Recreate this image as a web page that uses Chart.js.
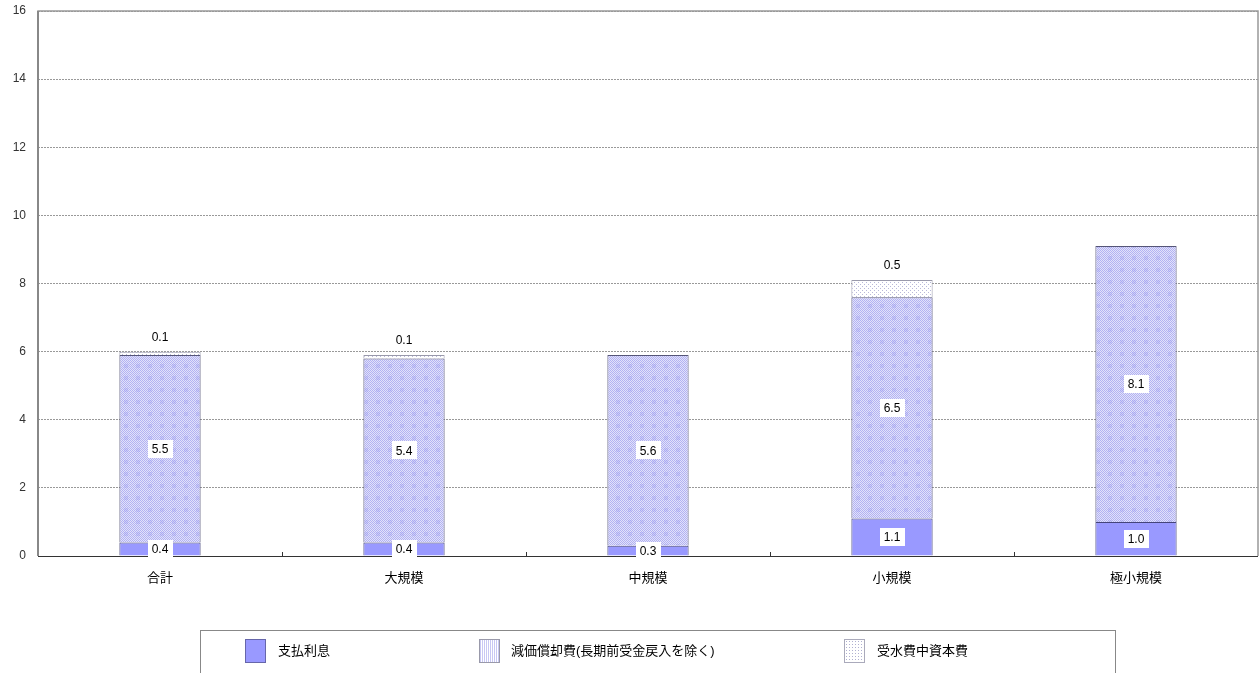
<!DOCTYPE html>
<html><head><meta charset="utf-8">
<script src="https://cdn.jsdelivr.net/npm/chart.js@4"></script>
<style>
html,body{margin:0;padding:0;background:#fff;}
#wrap{position:relative;width:1260px;height:673px;overflow:hidden;}
#c{position:absolute;left:0;top:0;}
#legend{position:absolute;left:200px;top:630px;width:916px;height:44px;border:1px solid #888;box-sizing:border-box;font-family:"Liberation Sans","Noto Sans CJK JP",sans-serif;font-size:13px;color:#000;}
.sw{position:absolute;top:8px;width:21px;height:24px;box-sizing:border-box;}
.lt{position:absolute;top:11px;line-height:18px;white-space:nowrap;}
</style></head>
<body><div id="wrap"><canvas id="c" width="1260" height="673"></canvas>
<div id="legend"></div></div>
<script>
const categories = ["合計","大規模","中規模","小規模","極小規模"];
const seriesNames = ["支払利息","減価償却費(長期前受金戻入を除く)","受水費中資本費"];
const interest = [0.4,0.4,0.3,1.1,1.0];
const depreciation = [5.5,5.4,5.6,6.5,8.1];
const capitalCost = [0.1,0.1,null,0.5,null];
const yTicks = [0,2,4,6,8,10,12,14,16];

function makePattern2(){
  const c=document.createElement('canvas');c.width=12;c.height=12;const g=c.getContext('2d');
  g.fillStyle='#e2e2fa';g.fillRect(0,0,12,12);
  for(let y=0;y<12;y++)for(let x=0;x<12;x++){
    if((x+y)%2===0){g.fillStyle='#b2b2f2';g.fillRect(x,y,1,1);}
  }
  g.fillStyle='rgba(150,150,240,0.28)';
  g.fillRect(4,4,4,4);
  return g.createPattern(c,'repeat');
}
function makePattern3(){
  const c=document.createElement('canvas');c.width=4;c.height=4;const g=c.getContext('2d');
  g.fillStyle='#ffffff';g.fillRect(0,0,4,4);
  g.fillStyle='#b8b8d8';g.fillRect(0,0,1,1);g.fillRect(2,2,1,1);
  return g.createPattern(c,'repeat');
}
const ctx0=document.getElementById('c').getContext('2d');
const p2=makePattern2(), p3=makePattern3();
const colors=['#9999ff',p2,p3];

const FONT='"Liberation Sans","Noto Sans CJK JP",sans-serif';

const framePlugin={
  id:'frame',
  beforeDatasetsDraw(chart){
    const {ctx,chartArea:a}=chart;
    ctx.save();
    ctx.strokeStyle='#999';ctx.lineWidth=1.5;
    ctx.beginPath();ctx.moveTo(a.left,a.bottom);ctx.lineTo(a.left,a.top);ctx.lineTo(a.right,a.top);ctx.lineTo(a.right,a.bottom);ctx.stroke();
    ctx.restore();
  },
  afterDatasetsDraw(chart){
    const {ctx,chartArea:a}=chart;
    const xs=chart.scales.x;
    ctx.save();
    ctx.strokeStyle='#333';ctx.lineWidth=1;
    ctx.beginPath();ctx.moveTo(a.left,a.bottom+0.5);ctx.lineTo(a.right,a.bottom+0.5);ctx.stroke();
    for(let i=1;i<categories.length;i++){
      const x=Math.round((xs.getPixelForValue(i-1)+xs.getPixelForValue(i))/2)+0.5;
      ctx.beginPath();ctx.moveTo(x,a.bottom);ctx.lineTo(x,a.bottom-4);ctx.stroke();
    }
    ctx.strokeStyle='#888';ctx.lineWidth=2;
    ctx.beginPath();ctx.moveTo(a.left,a.bottom);ctx.lineTo(a.left,a.top);ctx.stroke();
    // labels
    ctx.font='12px '+FONT;ctx.textAlign='center';ctx.textBaseline='middle';
    for(let d=0;d<2;d++){
      const meta=chart.getDatasetMeta(d);
      meta.data.forEach((bar,i)=>{
        const v=chart.data.datasets[d].data[i];
        if(v==null)return;
        const t=v.toFixed(1);
        const y=(bar.y+bar.base)/2;
        const w=ctx.measureText(t).width+8;
        ctx.fillStyle='#fff';ctx.fillRect(Math.round(bar.x-w/2),Math.round(y-9),Math.round(w),18);
        ctx.fillStyle='#000';ctx.fillText(t,bar.x,y+1);
      });
    }
    const meta=chart.getDatasetMeta(2);
    meta.data.forEach((bar,i)=>{
      const v=chart.data.datasets[2].data[i];
      if(v==null)return;
      ctx.fillStyle='#000';ctx.fillText(v.toFixed(1),bar.x,bar.y-14);
    });
    ctx.restore();
  }
};

new Chart(ctx0,{
  type:'bar',
  data:{labels:categories,datasets:[
    {label:seriesNames[0],data:interest,backgroundColor:colors[0],borderColor:'#44447a',borderWidth:1},
    {label:seriesNames[1],data:depreciation,backgroundColor:colors[1],borderColor:'#555577',borderWidth:1},
    {label:seriesNames[2],data:capitalCost,backgroundColor:colors[2],borderColor:'#9999aa',borderWidth:1}
  ]},
  options:{
    responsive:false,animation:false,
    layout:{padding:{top:11,right:2,left:0,bottom:0}},
    plugins:{legend:{display:false},tooltip:{enabled:false}},
    datasets:{bar:{categoryPercentage:1,barPercentage:0.333}},
    scales:{
      x:{stacked:true,
        grid:{display:false},border:{display:false},
        ticks:{font:{family:FONT,size:13},color:'#000',padding:7},
        afterFit(s){s.height=117;s.paddingLeft=0;s.paddingRight=0;}
      },
      y:{stacked:true,min:0,max:16,
        afterBuildTicks(s){s.ticks=yTicks.map(v=>({value:v}));},
        grid:{color:'#999',lineWidth:1,drawTicks:false},
        border:{display:false,dash:[2,1]},
        ticks:{font:{family:FONT,size:12},color:'#333',padding:12},
        afterFit(s){s.width=38;s.paddingTop=0;s.paddingBottom=0;}
      }
    }
  },
  plugins:[framePlugin]
});

// legend
const lg=document.getElementById('legend');
const swX=[44,278,643], txX=[77,310,676];
const swStyles=[
  'background:#9999ff;border:1px solid #6666aa;',
  'background:repeating-linear-gradient(90deg,#c8c8f4 0 1px,#ffffff 1px 2px);border:1px solid #9999aa;',
  'background:radial-gradient(#b0b0d0 0.6px,#fff 0.8px) 0 0/3px 3px;border:1px solid #aaaabb;'
];
seriesNames.forEach((n,i)=>{
  const s=document.createElement('div');s.className='sw';s.style.cssText='left:'+swX[i]+'px;'+swStyles[i];lg.appendChild(s);
  const t=document.createElement('div');t.className='lt';t.style.left=txX[i]+'px';t.textContent=n;lg.appendChild(t);
});
</script></body></html>
